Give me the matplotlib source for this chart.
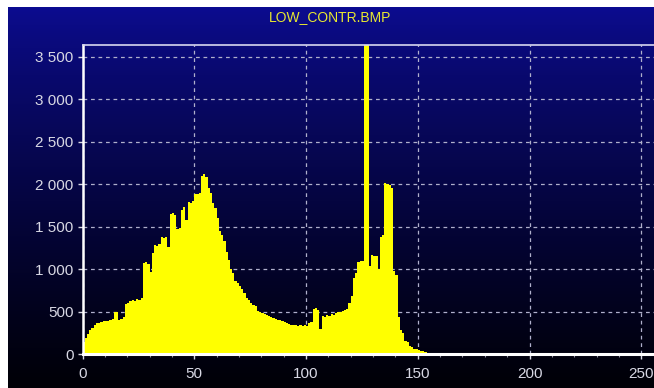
# -*- coding: utf-8 -*-
# Histogram of LOW_CONTR.BMP (grey levels 0..255)

# %%
import numpy as np
import matplotlib.pyplot as plt
from matplotlib.ticker import FuncFormatter, MultipleLocator

# %%
########################## data ##########################
title = "LOW_CONTR.BMP"

# counts for grey levels 0..160, everything above is empty
counts_head = [
    140, 190, 240, 280, 310, 340, 360, 370,           # 0-7
    380, 385, 390, 390, 400, 410,                     # 8-13
    500, 490, 400, 410, 430, 590, 600,                # 14-20
    630, 640, 620, 650, 640, 660,                     # 21-26
    1070, 1080, 1060, 970,                            # 27-30
    1190, 1280, 1270, 1300, 1380, 1370, 1380, 1260,   # 31-38
    1650, 1660, 1640, 1470, 1480, 1700, 1730, 1580,   # 39-46
    1790, 1780, 1800, 1880, 1890, 1900,               # 47-52
    2100, 2120, 2080, 1950, 1900, 1780, 1720,         # 53-59
    1600, 1450, 1400, 1330, 1200, 1110, 1000, 960,    # 60-67
    860, 840, 800, 760, 720, 660, 640, 600,           # 68-75
    580, 560, 510, 500, 480, 470, 460,                # 76-82
    450, 440, 420, 410, 400, 400, 390, 380,           # 83-90
    360, 350, 345, 340, 340, 335, 340, 330, 340, 335, # 91-100
    370, 380, 530, 540, 520, 290,                     # 101-106
    450, 440, 460, 450, 470, 460,                     # 107-112
    480, 490, 500, 510, 520, 530, 600, 680,           # 113-120
    900, 950, 1080, 1090, 1100,                       # 121-125
    3900, 3900,                                       # 126-127
    1040, 1170, 1160, 1150, 1000, 1380, 1400,         # 128-134
    2010, 2000, 1990, 1950, 980, 930, 440,            # 135-141
    280, 250, 150, 140, 90, 85, 60, 55, 50,           # 142-150
    35, 30, 25, 15, 10, 8, 5, 4, 3, 2,                # 151-160
]
counts = counts_head + [0] * (256 - len(counts_head))
edges = np.arange(257)

x_ticks = [0, 50, 100, 150, 200, 250]
y_ticks = [0, 500, 1000, 1500, 2000, 2500, 3000, 3500]

# %%
################################## plot #######################################
W, H = 654, 388
fig = plt.figure(figsize=(W / 100, H / 100), dpi=100, facecolor='white')

# blue -> black panel behind everything
bg = fig.add_axes([8 / W, 0, (W - 8) / W, (H - 7) / H], zorder=0)
grad = np.linspace(0, 1, 256).reshape(-1, 1) ** 0.8
top = np.array([12, 12, 145]) / 255
bottom = np.array([0, 0, 6]) / 255
img = top[None, None, :] * (1 - grad[..., None]) + bottom[None, None, :] * grad[..., None]
bg.imshow(img, aspect='auto', extent=[0, 1, 0, 1])
bg.axis('off')

ax = fig.add_axes([82.5 / W, (H - 354) / H, (654.7 - 82.5) / W, 309 / H], zorder=1)
ax.set_facecolor('none')
ax.stairs(counts, edges, fill=True, color='#ffff00', linewidth=0, zorder=2)

ax.set_xlim(0, 256)
ax.set_ylim(0, 3640)
ax.set_xticks(x_ticks)
ax.set_yticks(y_ticks)
ax.xaxis.set_minor_locator(MultipleLocator(10))
ax.yaxis.set_major_formatter(FuncFormatter(lambda v, p: '{:,}'.format(int(v)).replace(',', ' ')))

ax.grid(True, which='major', color='#b0b0cc', linestyle=(0, (3, 3)), linewidth=0.9, zorder=1)
ax.set_axisbelow(True)

for side in ['left', 'bottom', 'top']:
    ax.spines[side].set_color('white')
ax.spines['left'].set_linewidth(1.8)
ax.spines['bottom'].set_linewidth(2.2)
ax.spines['top'].set_color('#d8d8f0')
ax.spines['top'].set_linewidth(1.2)
ax.spines['right'].set_visible(False)

ax.tick_params(axis='both', which='major', colors='#d8d8e4', labelsize=11, length=3.5, width=1)
ax.tick_params(axis='x', which='major', pad=6)
ax.tick_params(axis='y', which='major', pad=3)
ax.tick_params(axis='x', which='minor', colors='#9090a0', length=2.5, width=0.8)
for lab in ax.get_xticklabels() + ax.get_yticklabels():
    lab.set_family('Liberation Sans')

fig.text(330 / W, 1 - 17 / H, title, color='#e8e830', fontsize=10, family='Liberation Sans',
         ha='center', va='center', zorder=3)

plt.savefig('out.png', dpi=100, facecolor=fig.get_facecolor())
